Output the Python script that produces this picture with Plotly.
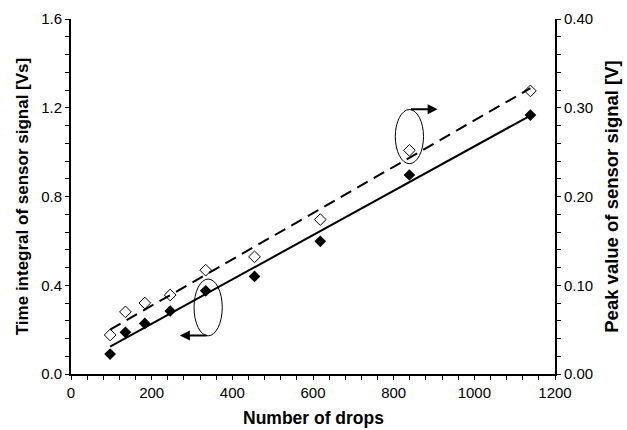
import plotly.graph_objects as go

# Data
drops = [97, 135, 183, 246, 334, 455, 618, 839, 1139]
time_integral = [0.090, 0.188, 0.228, 0.284, 0.375, 0.440, 0.598, 0.897, 1.167]
peak_value = [0.044, 0.070, 0.080, 0.089, 0.117, 0.132, 0.174, 0.252, 0.319]

# Linear trend lines (end points)
fit_x = [97, 1139]
fit_integral = [0.123, 1.165]
fit_peak = [0.050, 0.322]

x_ticks = [0, 200, 400, 600, 800, 1000, 1200]
left_ticks = [0.0, 0.4, 0.8, 1.2, 1.6]
left_labels = ["0.0", "0.4", "0.8", "1.2", "1.6"]
right_ticks = [0.0, 0.1, 0.2, 0.3, 0.4]
right_labels = ["0.00", "0.10", "0.20", "0.30", "0.40"]

FONT = "Liberation Sans, Arial, sans-serif"

fig = go.Figure()
fig.add_trace(go.Scatter(x=fit_x, y=fit_integral, mode="lines",
                         line=dict(color="black", width=2), yaxis="y", showlegend=False))
fig.add_trace(go.Scatter(x=fit_x, y=fit_peak, mode="lines",
                         line=dict(color="black", width=2, dash="12px,7px"), yaxis="y2", showlegend=False))
fig.add_trace(go.Scatter(x=drops, y=time_integral, mode="markers",
                         marker=dict(symbol="diamond", size=9, color="black"),
                         yaxis="y", showlegend=False))
fig.add_trace(go.Scatter(x=drops, y=peak_value, mode="markers",
                         marker=dict(symbol="diamond-open", size=9, color="black", line=dict(width=1)),
                         yaxis="y2", showlegend=False))

tickfont = dict(family=FONT, size=15, color="black")
ltitlefont = dict(family=FONT, size=17, color="black", weight="bold")
rtitlefont = dict(family=FONT, size=18.5, color="black", weight="bold")
xtitlefont = dict(family=FONT, size=17.5, color="black", weight="bold")

common = dict(showline=True, linecolor="black", linewidth=2, showgrid=False, zeroline=False,
              ticks="outside", ticklen=4, tickwidth=1, tickcolor="black", tickfont=tickfont,
              automargin=False)

fig.update_layout(
    width=627, height=430,
    margin=dict(l=71, r=72, t=19, b=56),
    plot_bgcolor="white", paper_bgcolor="white",
    xaxis=dict(range=[0, 1200], tickvals=x_ticks, mirror=False,
               minor=dict(dtick=40, ticks="outside", ticklen=4, tickcolor="black"),
               **common),
    xaxis2=dict(range=[0, 1200], overlaying="x", side="bottom", anchor="y",
                tickvals=x_ticks, ticks="inside", ticklen=4, tickcolor="black",
                showticklabels=False, showgrid=False, zeroline=False, showline=False),
    xaxis3=dict(range=[0, 1200], overlaying="x", side="top", anchor="y",
                showline=True, linecolor="black", linewidth=1.5, ticks="",
                showticklabels=False, showgrid=False, zeroline=False),
    yaxis=dict(range=[0, 1.6], tickvals=left_ticks, ticktext=left_labels,
               minor=dict(dtick=0.08, ticks="outside", ticklen=4, tickcolor="black"),
               title=dict(text="Time integral of sensor signal [Vs]", font=ltitlefont, standoff=8),
               **common),
    yaxis2=dict(range=[0, 0.4], tickvals=right_ticks, ticktext=right_labels,
                overlaying="y", side="right", anchor="x",
                minor=dict(dtick=0.02, ticks="outside", ticklen=4, tickcolor="black"),
                title=dict(text="Peak value of sensor signal [V]", font=rtitlefont, standoff=13),
                **common),
    yaxis3=dict(range=[0, 1.6], tickvals=left_ticks, overlaying="y", side="left", anchor="x",
                ticks="inside", ticklen=4, tickcolor="black", showticklabels=False,
                showgrid=False, zeroline=False, showline=False),
    yaxis4=dict(range=[0, 0.4], tickvals=right_ticks, overlaying="y", side="right", anchor="x",
                ticks="inside", ticklen=4, tickcolor="black", showticklabels=False,
                showgrid=False, zeroline=False, showline=False),
)

# x-axis title placed as text below the tick labels
fig.add_annotation(text="Number of drops", xref="paper", yref="paper", x=0.5, y=0,
                   xanchor="center", yanchor="middle", yshift=-44, showarrow=False,
                   font=xtitlefont)

# Ellipses marking which series belongs to which axis
fig.add_shape(type="circle", xref="x", yref="y", x0=305, x1=375, y0=0.172, y1=0.428,
              line=dict(color="black", width=1))
fig.add_shape(type="circle", xref="x", yref="y", x0=804, x1=874, y0=0.948, y1=1.192,
              line=dict(color="black", width=1))

fig.add_annotation(x=270, y=0.173, ax=340, ay=0.173, xref="x", yref="y", axref="x", ayref="y",
                   text="", showarrow=True, arrowhead=2, arrowsize=1, arrowwidth=2, arrowcolor="black")
fig.add_annotation(x=909, y=1.193, ax=839, ay=1.193, xref="x", yref="y", axref="x", ayref="y",
                   text="", showarrow=True, arrowhead=2, arrowsize=1, arrowwidth=2, arrowcolor="black")

fig.write_html("out.html")
